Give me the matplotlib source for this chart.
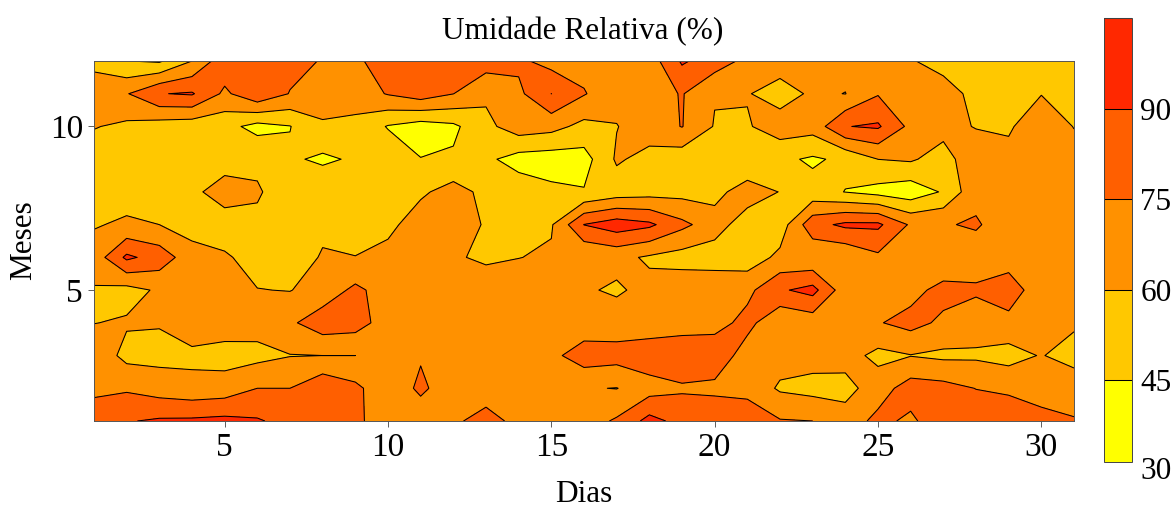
import numpy as np
import matplotlib
matplotlib.use('Agg')
import matplotlib.pyplot as plt
from matplotlib.colors import ListedColormap

plt.rcParams['font.family'] = ['Liberation Serif', 'DejaVu Serif']

dias = list(range(1, 32))
meses = [12, 11, 10, 9, 8, 7, 6, 5, 4, 3, 2, 1]
niveis = [30, 45, 60, 75, 90, 105]
ticks_dias = [5, 10, 15, 20, 25, 30]
ticks_meses = [5, 10]
cores = ['#FFFF00', '#FFC800', '#FF9100', '#FF5F00', '#FF2800']

# uma linha por dia, valores do mes 12 ate o mes 1
umidade = [
    [54, 72, 60.8, 52, 50, 59, 66, 59, 59.7, 70, 73, 80],
    [45.2, 74, 57, 52, 54.7, 62, 93, 55, 61.5, 55.7, 73, 89],
    [43, 89.4, 52.8, 52, 53, 60, 83.6, 62, 61, 55.5, 68, 92],
    [60, 91.5, 51, 52, 56, 54, 66, 66, 70, 56.2, 65, 92.5],
    [85, 72, 50, 52, 68, 51.5, 62, 68, 68, 54, 66.8, 94],
    [82, 87, 40, 58, 61, 58, 54, 60.4, 66, 55.6, 75, 91.5],
    [80, 74.3, 44.5, 47.5, 55, 57, 50, 59.5, 72.5, 59.5, 75, 85],
    [74, 66, 58.4, 42, 58, 56, 61.7, 66, 83.5, 60, 86.7, 85],
    [72, 67, 56, 47.3, 55, 54, 60.3, 78.4, 81.4, 60, 78.5, 80],
    [83, 76, 44, 55, 58, 56, 65, 68, 68, 66, 64.5, 62],
    [84, 83, 38, 45.4, 57.5, 68, 68, 66, 68, 73.6, 78, 65.6],
    [84, 75.2, 42, 47, 66, 65, 62, 66, 66, 68, 66, 72],
    [82, 62.7, 56, 48, 56, 59.1, 57, 70, 66, 66, 66, 81.6],
    [78, 71.8, 68, 39, 53.8, 57, 59.7, 69, 67, 66, 66, 70],
    [69.3, 90.1, 65, 37.5, 48.4, 58.5, 62, 65, 66, 71, 66, 66],
    [70, 76, 55.7, 39, 46, 90.3, 60.6, 61.5, 65, 83, 61, 68],
    [70, 65, 59.5, 62, 52, 98, 64, 58.2, 66.7, 81, 59.6, 77],
    [67, 68, 67.5, 55, 54, 93, 58, 64, 66, 84.6, 68.4, 95],
    [92, 76, 75.5, 51, 55, 78.7, 54, 70, 68, 86, 73, 85],
    [82.6, 61, 59, 52, 55, 67, 52, 72, 69, 86, 71, 88],
    [71, 61, 58.5, 45.5, 68, 51.6, 52, 71, 80, 67, 70, 85],
    [68, 53, 68, 48, 59.5, 52, 63.4, 88, 62, 66, 58, 76],
    [66, 62.7, 66, 43, 50, 85, 62, 95, 66, 66, 55, 75],
    [65, 59.7, 89.5, 48, 44.7, 93, 62, 66, 64, 66, 54.7, 67],
    [65, 74, 92, 60.1, 40, 93, 72, 64, 74, 56, 68, 79],
    [61, 66, 71, 62, 36, 73, 72, 70, 80, 59.5, 82, 72],
    [55, 66, 66, 53, 46.5, 74, 62, 80, 72, 57, 80, 85.8],
    [54, 56, 59, 72, 71, 76.5, 68, 77, 67.6, 57.6, 74.7, 84],
    [54, 54, 58, 64.6, 66, 68, 68, 83, 70.4, 54, 73, 82.4],
    [54, 59.5, 70, 70, 66, 66, 66, 66, 66, 61, 66, 81.6],
    [55, 56, 59.5, 66, 66, 66, 66, 66, 63, 52, 73, 75.3],
]

W, H = 1174.0, 509.0
TAM = 22.5
fig = plt.figure(figsize=(W / 100, H / 100), dpi=100)
ax = fig.add_axes([94 / W, 1 - 421 / H, 980 / W, 360 / H])
cax = fig.add_axes([1104 / W, 1 - 462 / H, 28 / W, 444 / H])

z = np.array(umidade).T
cmap = ListedColormap(cores)
cf = ax.contourf(dias, meses, z, levels=niveis, cmap=cmap)
cl = ax.contour(dias, meses, z, levels=niveis, colors='k', linewidths=0.75)

ax.set_xlim(1, 31)
ax.set_ylim(1, 12)
ax.set_xticks(ticks_dias)
ax.set_yticks(ticks_meses)
ax.tick_params(axis='both', labelsize=24, length=4, width=0.6, color='#444444', pad=4)
for s in ax.spines.values():
    s.set_linewidth(0.7)
    s.set_color('#555555')
# marcas de dentro no topo e na direita
topo = ax.secondary_xaxis('top')
topo.set_xticks(ticks_dias)
topo.set_xticklabels([])
topo.tick_params(direction='in', length=4, width=0.6, color='#444444')
topo.spines['top'].set_visible(False)
direita = ax.secondary_yaxis('right')
direita.set_yticks(ticks_meses)
direita.set_yticklabels([])
direita.tick_params(direction='in', length=4, width=0.6, color='#444444')
direita.spines['right'].set_visible(False)

fig.text(582.5 / W, 1 - 32 / H, 'Umidade Relativa (%)', fontsize=TAM, ha='center', va='center')
fig.text(584 / W, 1 - 495 / H, 'Dias', fontsize=TAM, ha='center', va='center')
fig.text(24 / W, 1 - 240 / H, 'Meses', fontsize=TAM, ha='center', va='center', rotation=90)

cb = fig.colorbar(cf, cax=cax)
cb.add_lines(cl)
cax.set_ylim(31.5, 105)
cb.set_ticks([45, 60, 75, 90])
cax.tick_params(labelsize=TAM, length=0, pad=6)
cb.outline.set_linewidth(0.7)
cb.outline.set_edgecolor('#444444')
cax.text(1.0 + 6 * 100 / 72 / 28, 30, '30', transform=cax.get_yaxis_transform(), fontsize=TAM,
         va='center', ha='left', clip_on=False)

fig.savefig('out.png', dpi=100)
